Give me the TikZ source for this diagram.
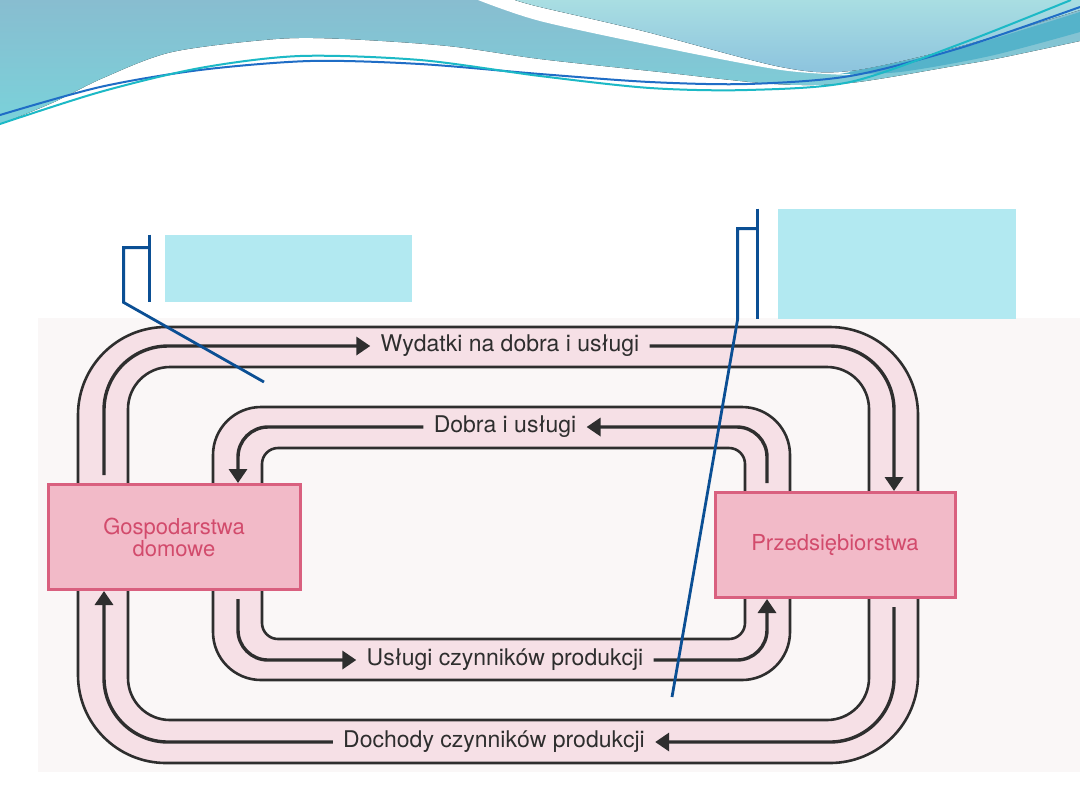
\documentclass[tikz,border=0pt]{standalone}
\usepackage{fontspec}
\setsansfont{TeX Gyre Heros}
\usetikzlibrary{arrows.meta,positioning}
\definecolor{bandpink}{HTML}{F6E0E6}
\definecolor{boxpink}{HTML}{F2BAC8}
\definecolor{boxedge}{HTML}{D9607F}
\definecolor{boxtext}{HTML}{D24B6C}
\definecolor{flowgray}{HTML}{2E2E2E}
\definecolor{calloutcyan}{HTML}{B2E9F1}
\definecolor{leaderblue}{HTML}{0B4F94}
\definecolor{scanbg}{HTML}{FAF7F7}
\definecolor{wavetop}{HTML}{88BDD0}
\definecolor{wavelow}{HTML}{7AD2DA}
\definecolor{waveright}{HTML}{A9DEE2}
\definecolor{waverightlow}{HTML}{8CC3DE}
\definecolor{wavedark}{HTML}{55B3CA}
\definecolor{waveblue}{HTML}{1F6DC6}
\definecolor{waveteal}{HTML}{1CB9C6}

\begin{document}
\begin{tikzpicture}[x=0.5pt,y=-0.5pt,font=\sffamily,
  unit/.style={draw=boxedge,line width=1.5pt,fill=boxpink,text=boxtext,minimum width=126pt,minimum height=52.5pt,align=center,inner sep=0pt,font=\sffamily\fontsize{11}{11}\selectfont},
  lbl/.style={text=flowgray,inner xsep=5pt,inner ysep=1pt,font=\sffamily\fontsize{11.5}{13}\selectfont},
  rim/.style={draw=flowgray,line width=1.3pt},
  fl/.style={draw=flowgray,line width=1.7pt},
  ar/.style={fl,-{Triangle[length=7pt,width=9pt]}},
  note/.style={fill=calloutcyan,inner sep=0pt},
  lead/.style={draw=leaderblue,line width=1.4pt}]
\useasboundingbox (0,0) rectangle (1080,810);
\fill[white] (0,0) rectangle (1080,810);
\fill[top color=wavetop,bottom color=wavelow] (0,0) -- (1080,0) -- plot[smooth] coordinates {(1080,41) (1000,58) (954,66) (850,83) (774,84) (660,72) (540,59) (448,46) (345,39) (276,39) (172,52) (103,78) (52,103) (0,124)} -- cycle;
\fill[white] plot[smooth] coordinates {(478,0) (540,21) (660,47) (781,70) (850,75)} -- plot[smooth] coordinates {(850,71) (781,67) (643,31) (540,7) (515,0)} -- cycle;
\fill[top color=waveright,bottom color=waverightlow] (515,0) -- (1080,0) -- plot[smooth] coordinates {(1080,10) (954,48) (850,71) (781,67) (643,31) (540,7) (515,0)} -- cycle;
\fill[wavedark] plot[smooth] coordinates {(840,74) (954,50) (1080,12)} -- plot[smooth] coordinates {(1080,32) (990,56) (900,72) (840,74)} -- cycle;
\draw[waveblue,line width=1pt] plot[smooth] coordinates {(0,115) (100,87) (200,70) (310,61) (420,64) (540,74) (650,82) (747,84) (850,76) (960,48) (1080,7)};
\draw[waveteal,line width=1pt] plot[smooth] coordinates {(0,124) (100,92) (200,68) (300,56) (420,60) (540,76) (650,88) (747,90) (850,82) (960,44) (1071,0)};

\fill[scanbg] (38,318) rectangle (1080,772);
\fill[bandpink,even odd rule] [rounded corners=44pt] (78,327) rectangle (918,763) [rounded corners=21pt] (128,367) rectangle (869,720);
\fill[bandpink,even odd rule] [rounded corners=24pt] (213,407) rectangle (790,680) [rounded corners=8pt] (262,448) rectangle (745,639);
\draw[rim,rounded corners=44pt] (78,327) rectangle (918,763);
\draw[rim,rounded corners=21pt] (128,367) rectangle (869,720);
\draw[rim,rounded corners=24pt] (213,407) rectangle (790,680);
\draw[rim,rounded corners=8pt] (262,448) rectangle (745,639);

\node[unit] (gd) at (174,537) {Gospodarstwa\\domowe};
\node[unit,minimum width=120pt] (pr) at (835,545) {Przedsiębiorstwa};
\node[lbl] (wyd) at (510,346) {Wydatki na dobra i usługi};
\node[lbl] (dob) at (505,427) {Dobra i usługi};
\node[lbl] (usl) at (505,660) {Usługi czynników produkcji};
\node[lbl] (doch) at (494,742) {Dochody czynników produkcji};

\draw[ar,rounded corners=32pt,shorten <=4pt] (gd.north -| 104,0) |- (wyd.west);
\draw[ar,rounded corners=32pt] (wyd.east) -| (pr.north -| 894,0);
\draw[ar,rounded corners=32pt,shorten <=4pt] (pr.south -| 894,0) |- (doch.east);
\draw[ar,rounded corners=32pt] (doch.west) -| (gd.south -| 104,0);
\draw[ar,rounded corners=15pt,shorten <=4pt] (pr.north -| 767,0) |- (dob.east);
\draw[ar,rounded corners=15pt] (dob.west) -| (gd.north -| 238,0);
\draw[ar,rounded corners=15pt,shorten <=4pt] (gd.south -| 238,0) |- (usl.west);
\draw[ar,rounded corners=15pt] (usl.east) -| (pr.south -| 767,0);

\node[note,minimum width=123.5pt,minimum height=33.5pt] (c1) at (288.5,268.5) {};
\node[note,minimum width=119pt,minimum height=55pt] (c2) at (897,264) {};
\coordinate (p1) at (264,382);
\coordinate (p2) at (672,697);
\draw[lead] ([xshift=-7.5pt]c1.north west) -- ([xshift=-7.5pt]c1.south west);
\draw[lead] ([xshift=-7.5pt,yshift=-6.5pt]c1.north west) -| ([xshift=-20.5pt]c1.south west) -- (p1);
\draw[lead] ([xshift=-10pt]c2.north west) -- ([xshift=-10pt]c2.south west);
\draw[lead] ([xshift=-10pt,yshift=-10pt]c2.north west) -| ([xshift=-20pt]c2.south west) -- (p2);
\end{tikzpicture}
\end{document}
